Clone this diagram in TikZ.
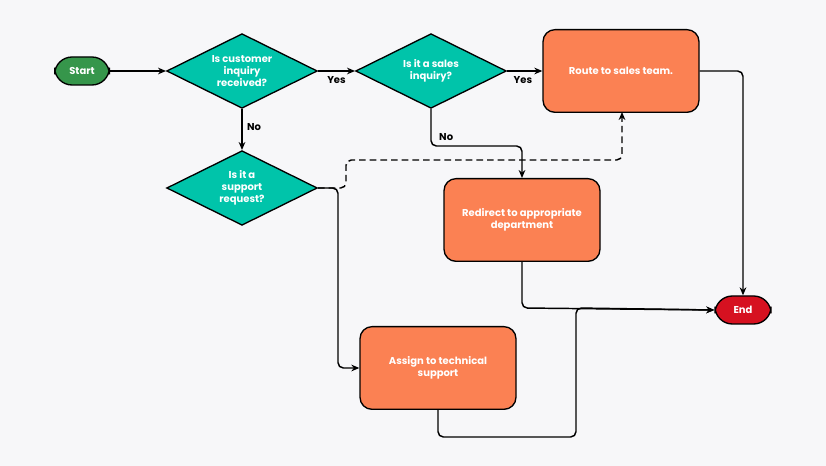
\documentclass[tikz,border=0pt]{standalone}
\usepackage{fontspec}
\setmainfont{Poppins}
\usetikzlibrary{shapes.geometric,arrows.meta,positioning}
\definecolor{bgc}{HTML}{F7F7F9}
\definecolor{teal}{HTML}{00C4AA}
\definecolor{orng}{HTML}{FB8153}
\definecolor{grn}{HTML}{36964B}
\definecolor{redc}{HTML}{D61120}
\tikzset{
  pill/.style={draw=black,line width=1pt,rounded corners=13pt,minimum width=41pt,minimum height=21pt,text=white,font=\fontsize{7.5}{9}\selectfont\bfseries},
  dec/.style={diamond,draw=black,line width=1pt,fill=teal,aspect=2,minimum width=113pt,minimum height=56pt,inner sep=0pt,align=center,text=white,font=\fontsize{7.5}{9}\selectfont\bfseries},
  proc/.style={draw=black,line width=1pt,fill=orng,rounded corners=9pt,minimum width=117pt,minimum height=62pt,align=center,text=white,font=\fontsize{7.5}{9}\selectfont\bfseries},
  lnk/.style={-{Stealth[length=6pt,width=5pt]},line width=1.1pt,rounded corners=4pt},
  lbl/.style={font=\fontsize{7.5}{9}\selectfont\bfseries}
}
\begin{document}
\begin{tikzpicture}[x=0.75pt,y=-0.75pt]
\fill[bgc] (0,0) rectangle (826,466);
\useasboundingbox (0,0) rectangle (826,466);
\node[pill,fill=grn] (start) at (82,71) {Start};
\node[dec] (q_inq) at (242,71) {Is customer\\inquiry\\received?};
\node[dec] (q_sal) at (431,71) {Is it a sales\\inquiry?};
\node[dec] (q_sup) at (242,188) {Is it a\\support\\request?};
\node[proc] (route) at (621,71) {Route to sales team.};
\node[proc] (redir) at (522,220) {Redirect to appropriate\\department};
\node[proc] (assign) at (438,368) {Assign to technical\\support};
\node[pill,fill=redc,minimum width=42pt] (end) at (743,310) {End};
\draw[lnk] (start) -- (q_inq);
\draw[lnk] (q_inq) -- node[lbl,below] {Yes} (q_sal);
\draw[lnk] (q_sal) -- node[lbl,below,pos=0.45] {Yes} (route);
\draw[lnk] (q_inq) -- node[lbl,right,pos=0.45] {No} (q_sup);
\draw[lnk] (q_sal.south) -- (431,146) -- node[lbl,above left,pos=0.3] {No} (522,146) -- (redir.north);
\draw[lnk] (q_sup.east) -- (338,188) -- (338,368) -- (assign.west);
\draw[lnk,dashed,dash pattern=on 5pt off 3pt] (q_sup.east) -- (346,188) -- (346,160) -- (622,160) -- (622,112);
\draw[lnk] (route.east) -- (743,71) -- (end.north);
\draw[lnk] (redir.south) -- (522,308) -- (end.west);
\draw[lnk] (assign.south) -- (438,437) -- (576,437) -- (576,308) -- (end.west);
\end{tikzpicture}
\end{document}
